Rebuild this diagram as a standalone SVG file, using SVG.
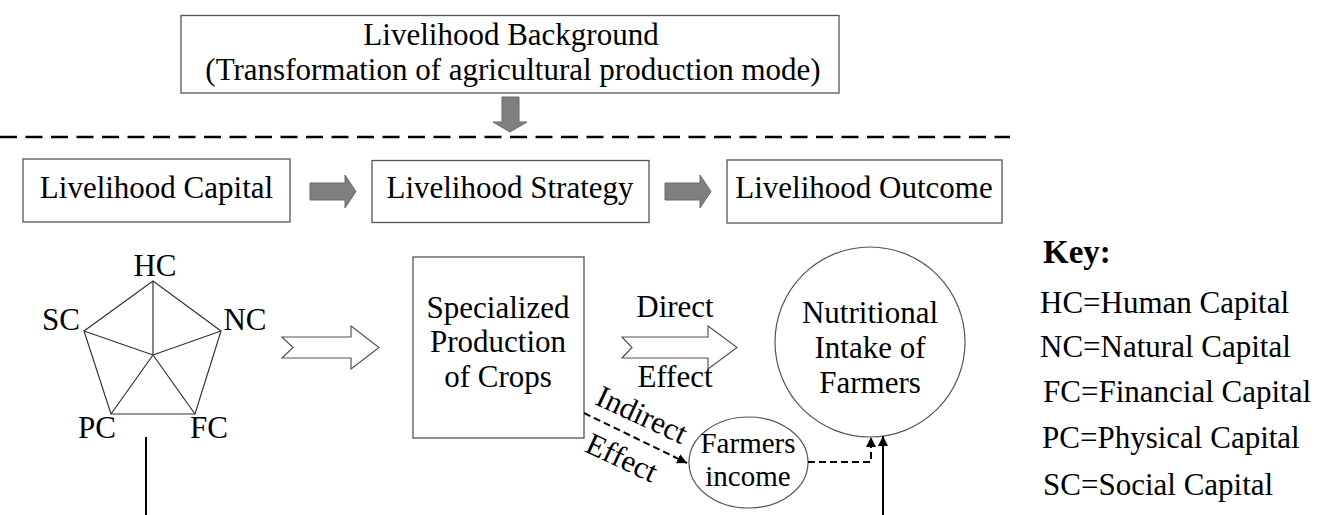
<svg xmlns="http://www.w3.org/2000/svg" width="1328" height="515" viewBox="0 0 1328 515">
  <style>
    text { font-family: "Liberation Serif", "Times New Roman", serif; font-size: 31px; fill: #000; }
    .c { text-anchor: middle; }
    .small { font-size: 29px; }
    .box { fill: #fff; stroke: #555; stroke-width: 1.3; }
    .grey { fill: #7f7f7f; stroke: #6a6a6a; stroke-width: 1; }
    .hollow { fill: #fff; stroke: #555; stroke-width: 1.2; }
    .pent { fill: none; stroke: #333; stroke-width: 1.2; }
    .solid { fill: none; stroke: #000; stroke-width: 2; }
    .dash { fill: none; stroke: #000; stroke-width: 2; stroke-dasharray: 7 4; }
    .key { font-size: 31px; }
    .keyhead { font-size: 33px; font-weight: bold; }
  </style>
  <defs>
    <marker id="ah" viewBox="0 0 10 10" refX="10" refY="5" markerWidth="10" markerHeight="10" markerUnits="userSpaceOnUse" orient="auto">
      <path d="M0,0 L10,5 L0,10 Z" fill="#000"/>
    </marker>
    <path id="blockArrow" d="M0,8 H35 V0 L46,16.5 L35,33 V25 H0 Z"/>
  </defs>
  <rect width="1328" height="515" fill="#fff"/>

  <g id="background">
    <rect class="box" x="181" y="15.5" width="658" height="77.5"/>
    <text class="c" x="511" y="45">Livelihood Background</text>
    <text class="c" x="513" y="80">(Transformation of agricultural production mode)</text>
  </g>

  <g id="separator">
    <line x1="0" y1="137" x2="1010" y2="137" stroke="#000" stroke-width="2.5" stroke-dasharray="17 8.5"/>
  </g>

  <g id="capital">
    <rect class="box" x="23" y="159" width="267" height="63"/>
    <text class="c" x="156.5" y="198">Livelihood Capital</text>
  </g>
  <g id="strategy">
    <rect class="box" x="372" y="160.5" width="277" height="62"/>
    <text class="c" x="510" y="198">Livelihood Strategy</text>
  </g>
  <g id="outcome">
    <rect class="box" x="727" y="160" width="275" height="63"/>
    <text class="c" x="864" y="198">Livelihood Outcome</text>
  </g>

  <g id="pentagon">
    <polygon class="pent" points="153,281 221,331 195,414 111,414 84,331"/>
    <path class="pent" d="M153,355 L153,281 M153,355 L221,331 M153,355 L195,414 M153,355 L111,414 M153,355 L84,331"/>
    <text class="c" x="155" y="276">HC</text>
    <text class="c" x="61" y="330">SC</text>
    <text class="c" x="245" y="330">NC</text>
    <text class="c" x="97" y="438">PC</text>
    <text class="c" x="209" y="438">FC</text>
  </g>

  <g id="specialized">
    <rect class="box" x="413" y="257" width="171" height="181"/>
    <text class="c" x="498" y="318">Specialized</text>
    <text class="c" x="498" y="352">Production</text>
    <text class="c" x="498" y="387">of Crops</text>
  </g>

  <g id="nutrition">
    <circle cx="870" cy="342" r="95" fill="#fff" stroke="#555" stroke-width="1.2"/>
    <text class="c" x="870" y="323">Nutritional</text>
    <text class="c" x="870" y="358">Intake of</text>
    <text class="c" x="870" y="393">Farmers</text>
  </g>

  <g id="income">
    <ellipse cx="748.5" cy="462.5" rx="59.5" ry="45.5" fill="#fff" stroke="#555" stroke-width="1.2"/>
    <text class="c small" x="748" y="453">Farmers</text>
    <text class="c small" x="748" y="486">income</text>
  </g>

  <g id="key">
    <text class="keyhead" x="1043" y="263">Key:</text>
    <text class="key" x="1040" y="313">HC=Human Capital</text>
    <text class="key" x="1040" y="357">NC=Natural Capital</text>
    <text class="key" x="1043" y="402">FC=Financial Capital</text>
    <text class="key" x="1042" y="448">PC=Physical Capital</text>
    <text class="key" x="1043" y="495">SC=Social Capital</text>
  </g>

  <g id="connectors">
    <path class="grey" d="M502,97 H519 V122 H527 L510,132 L493,122 H502 Z"/>
    <use href="#blockArrow" class="grey" transform="translate(310,175)"/>
    <use href="#blockArrow" class="grey" transform="translate(665,175)"/>
    <path class="hollow" d="M282,337 H351 V326 L379,347.5 L351,369 V358 H282 L293,347.5 Z"/>
    <path class="hollow" d="M622,337 H708 V326 L737,347.5 L708,369 V358 H622 L632,347.5 Z"/>
    <text class="c" x="675" y="317">Direct</text>
    <text class="c" x="675" y="387">Effect</text>
    <line class="solid" x1="146" y1="437" x2="146" y2="515"/>
    <path class="dash" d="M584,413 L687,463" marker-end="url(#ah)"/>
    <text class="c" transform="translate(637.5,424) rotate(25)">Indirect</text>
    <text class="c" transform="translate(617.5,467) rotate(25)">Effect</text>
    <path class="dash" d="M808,462 H871 V437" marker-end="url(#ah)"/>
    <path class="solid" d="M883,515 V436" marker-end="url(#ah)"/>
  </g>
</svg>
